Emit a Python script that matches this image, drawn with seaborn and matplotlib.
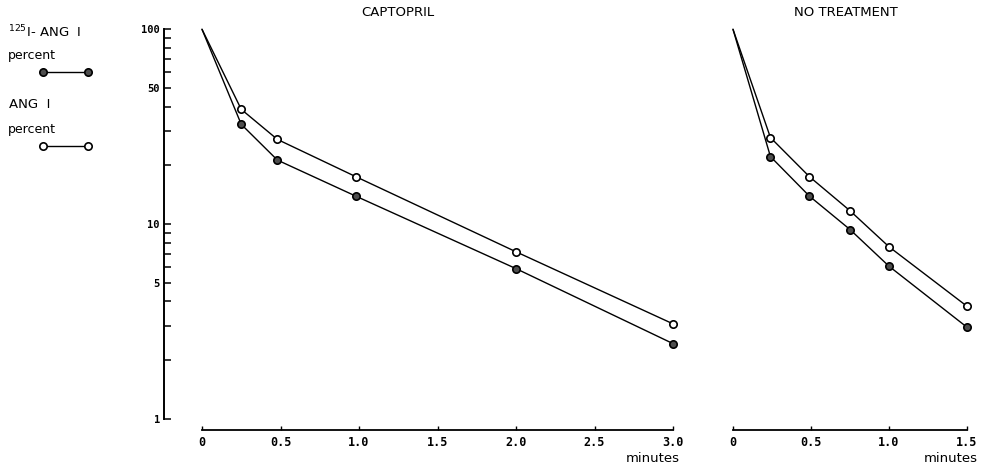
import matplotlib
matplotlib.use("Agg")
import matplotlib.pyplot as plt
from matplotlib.lines import Line2D
from matplotlib.ticker import FixedLocator, FixedFormatter, NullFormatter
import pandas as pd
import seaborn as sns

# Plasma disappearance of labelled and endogenous angiotensin I (percent of initial)
cap_minutes = [0, 0.25, 0.48, 0.98, 2.0, 3.0]
cap_ang_i = [100, 38.8, 27.2, 17.5, 7.2, 3.07]
cap_i125 = [100, 32.5, 21.3, 13.9, 5.9, 2.43]

nt_minutes = [0, 0.24, 0.49, 0.75, 1.0, 1.5]
nt_ang_i = [100, 27.8, 17.5, 11.7, 7.64, 3.78]
nt_i125 = [100, 22.2, 13.9, 9.37, 6.07, 2.95]

panel_titles = ["CAPTOPRIL", "NO TREATMENT"]
y_major = [1, 5, 10, 50, 100]
y_minor = [2, 3, 4, 6, 7, 8, 9, 20, 30, 40, 60, 70, 80, 90]
cap_xticks = [0, 0.5, 1.0, 1.5, 2.0, 2.5, 3.0]
nt_xticks = [0, 0.5, 1.0, 1.5]
x_label = "minutes"

sns.set_theme(style="white")
plt.rcParams["font.family"] = ["DejaVu Sans"]

W, H = 987, 465
fig = plt.figure(figsize=(W / 100, H / 100), dpi=100)

y_bot = (H - 418.7) / H
y_top = (H - 29.3) / H
ax1 = fig.add_axes([202 / W, y_bot, (673 - 202) / W, y_top - y_bot])
ax2 = fig.add_axes([733 / W, y_bot, (967 - 733) / W, y_top - y_bot])

FILLED = "#4d4d4d"
MS = 5.3
mono = dict(family="DejaVu Sans Mono", weight="bold")


def draw_panel(ax, minutes, ang, i125, xmax):
    n = len(minutes)
    df = pd.DataFrame({
        "minutes": list(minutes) * 2,
        "percent": list(i125) + list(ang),
        "series": ["125I-ANG I"] * n + ["ANG I"] * n,
    })
    ax.set_yscale("log")
    for name, face in [("125I-ANG I", FILLED), ("ANG I", "white")]:
        sub = df[df["series"] == name]
        sns.lineplot(data=sub, x="minutes", y="percent", ax=ax,
                     color="black", lw=1.0, marker="o",
                     markevery=list(range(1, n)), markersize=MS,
                     markerfacecolor=face, markeredgecolor="black",
                     markeredgewidth=1.2, estimator=None, sort=False,
                     legend=False, clip_on=False, zorder=3)
    ax.set_xlim(0, xmax)
    ax.set_ylim(1, 100)
    ax.set_xlabel("")
    ax.set_ylabel("")
    for s in ["top", "right"]:
        ax.spines[s].set_visible(False)
    ax.spines["bottom"].set_position(("outward", 8.1))
    ax.spines["bottom"].set_linewidth(1.3)
    ax.spines["bottom"].set_color("black")
    ax.tick_params(axis="x", direction="in", length=3, width=1.0,
                   color="black", pad=4, bottom=True)
    ax.grid(False)


draw_panel(ax1, cap_minutes, cap_ang_i, cap_i125, 3.0)
draw_panel(ax2, nt_minutes, nt_ang_i, nt_i125, 1.5)

# x ticks
for ax, ticks in [(ax1, cap_xticks), (ax2, nt_xticks)]:
    ax.xaxis.set_major_locator(FixedLocator(ticks))
    labels = ["0" if t == 0 else f"{t:.1f}" for t in ticks]
    ax.xaxis.set_major_formatter(FixedFormatter(labels))
    ax.xaxis.set_minor_formatter(NullFormatter())
    for lab in ax.get_xticklabels():
        lab.set_fontfamily(mono["family"])
        lab.set_fontweight(mono["weight"])
        lab.set_fontsize(8.5)
        lab.set_color("black")

# y axis on the left panel only
ax1.spines["left"].set_position(("outward", 27.4))
ax1.spines["left"].set_linewidth(1.4)
ax1.spines["left"].set_color("black")
ax1.yaxis.set_major_locator(FixedLocator(y_major))
ax1.yaxis.set_major_formatter(FixedFormatter([str(v) for v in y_major]))
ax1.yaxis.set_minor_locator(FixedLocator(y_minor))
ax1.yaxis.set_minor_formatter(NullFormatter())
ax1.tick_params(axis="y", which="both", direction="in", length=5, width=1.1,
                color="black", pad=3, left=True)
for lab in ax1.get_yticklabels():
    lab.set_fontfamily(mono["family"])
    lab.set_fontweight(mono["weight"])
    lab.set_fontsize(7.5)
    lab.set_color("black")

ax2.spines["left"].set_visible(False)
ax2.tick_params(axis="y", which="both", left=False, labelleft=False)

# panel titles
fig.text(398 / W, 1 - 13 / H, panel_titles[0], ha="center", va="center",
         fontsize=9.5, color="black")
fig.text(846 / W, 1 - 13 / H, panel_titles[1], ha="center", va="center",
         fontsize=9.5, color="black")

# axis unit labels
fig.text(680 / W, 1 - 458 / H, x_label, ha="right", va="center",
         fontsize=9.5, color="black")
fig.text(978 / W, 1 - 458 / H, x_label, ha="right", va="center",
         fontsize=9.5, color="black")

# key, drawn at the left edge
fig.text(8 / W, 1 - 32 / H, r"$^{125}$I- ANG  I", ha="left", va="center",
         fontsize=9.5, color="black")
fig.text(8 / W, 1 - 55 / H, "percent", ha="left", va="center",
         fontsize=9, color="black")
fig.add_artist(Line2D([43 / W, 88 / W], [1 - 72 / H, 1 - 72 / H],
                      transform=fig.transFigure, color="black", lw=1.0,
                      marker="o", markersize=MS, markerfacecolor=FILLED,
                      markeredgecolor="black", markeredgewidth=1.2))
fig.text(9 / W, 1 - 105 / H, "ANG  I", ha="left", va="center",
         fontsize=9.5, color="black")
fig.text(8 / W, 1 - 130 / H, "percent", ha="left", va="center",
         fontsize=9, color="black")
fig.add_artist(Line2D([43 / W, 88 / W], [1 - 146 / H, 1 - 146 / H],
                      transform=fig.transFigure, color="black", lw=1.0,
                      marker="o", markersize=MS, markerfacecolor="white",
                      markeredgecolor="black", markeredgewidth=1.2))

fig.savefig("out.png", dpi=100, facecolor="white")
